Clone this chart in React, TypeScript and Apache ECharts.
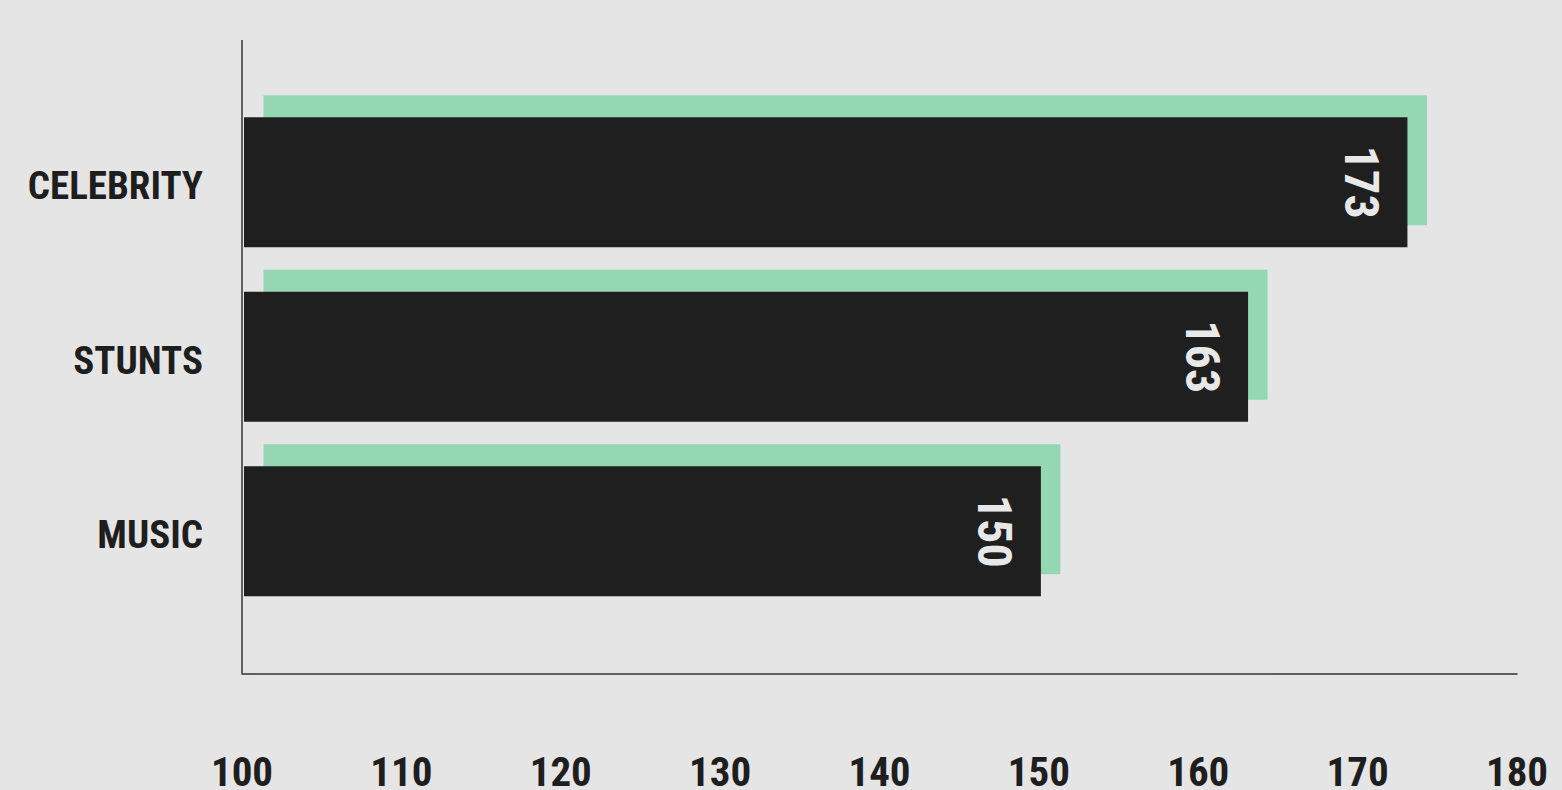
import React, { useEffect, useRef } from "react";
import * as echarts from "echarts";

const categories = ["CELEBRITY", "STUNTS", "MUSIC"];
const values = [173, 163, 150];
const xMin = 100;
const xMax = 180;
const xInterval = 10;

const BG = "#e5e5e5";
const DARK = "#1f1f1f";
const GREEN = "#93d8b2";
const FONT = "'Roboto Condensed', 'Liberation Sans Narrow', 'DejaVu Sans Condensed', sans-serif";

export default function App() {
  const ref = useRef<HTMLDivElement>(null);
  useEffect(() => {
    if (!ref.current) return;
    const chart = echarts.init(ref.current, undefined, { renderer: "svg" });
    const data = categories.map((c, i) => [values[i], i]);
    chart.setOption({
      animation: false,
      backgroundColor: BG,
      grid: { left: 242, right: 45, top: 95, bottom: 171.5, containLabel: false, outerBoundsMode: "none" },
      xAxis: {
        type: "value",
        min: xMin,
        max: xMax,
        interval: xInterval,
        offset: 55,
        axisLine: { show: true, lineStyle: { color: "#333", width: 1.5 } },
        axisTick: { show: false },
        splitLine: { show: false },
        axisLabel: {
          margin: 78,
          color: "#1e1e1e",
          fontFamily: FONT,
          fontWeight: "bold",
          fontSize: 41,
        },
      },
      yAxis: {
        type: "category",
        data: categories,
        inverse: true,
        axisLine: { show: false },
        axisTick: { show: false },
        axisLabel: {
          margin: 39,
          formatter: (v: string) => `{c|${v}}`,
          rich: {
            c: {
              color: "#1e1e1e",
              fontFamily: FONT,
              fontWeight: "bold",
              fontSize: 39,
              padding: [8, 0, 0, 0],
            },
          },
        },
      },
      graphic: [
        {
          type: "line",
          shape: { x1: 242, y1: 40, x2: 242, y2: 673.5 },
          style: { stroke: "#333", lineWidth: 1.5 },
          z: 10,
        },
      ],
      series: [
        {
          type: "custom",
          encode: { x: 0, y: 1 },
          data,
          renderItem: (params: any, api: any) => {
            const val = api.value(0);
            const idx = api.value(1);
            const shift = 2;
            const start = api.coord([xMin, idx]);
            const end = api.coord([val, idx]);
            const band = api.size([0, 1])[1];
            const h = band * (130 / 174.5);
            const top = end[1] - h / 2;
            const x0 = start[0] + shift;
            const x1 = end[0] + shift;
            const dx = 19.5;
            const dy = -22;
            return {
              type: "group",
              children: [
                {
                  type: "rect",
                  shape: { x: x0 + dx, y: top + dy, width: x1 - x0, height: h },
                  style: { fill: GREEN },
                },
                {
                  type: "rect",
                  shape: { x: x0, y: top, width: x1 - x0, height: h },
                  style: { fill: DARK },
                },
                {
                  type: "text",
                  x: x1 - 46,
                  y: end[1],
                  rotation: -Math.PI / 2,
                  style: {
                    text: String(val),
                    fill: "#e8e8e8",
                    font: `bold 48px ${FONT}`,
                    align: "center",
                    verticalAlign: "middle",
                  },
                },
              ],
            };
          },
        },
      ],
    });
    return () => chart.dispose();
  }, []);
  return <div ref={ref} style={{ width: 1562, height: 790, position: "absolute", left: 0, top: 0 }} />;
}
